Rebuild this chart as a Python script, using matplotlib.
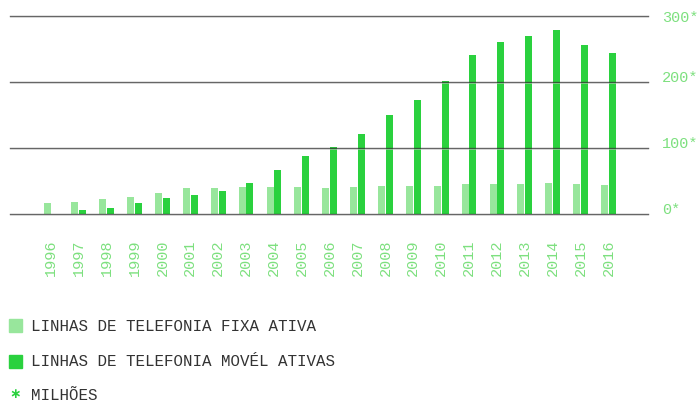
import matplotlib.pyplot as plt
import matplotlib.transforms as mtransforms
import numpy as np

anos = ['1996', '1997', '1998', '1999', '2000', '2001', '2002', '2003', '2004', '2005', '2006',
        '2007', '2008', '2009', '2010', '2011', '2012', '2013', '2014', '2015', '2016']
fixa = [16.7, 18.2, 22.7, 25.8, 31.8, 39.4, 39.4, 41, 41, 41, 39.4,
        41, 42.4, 42.4, 42.4, 45.5, 45.5, 45.5, 47, 45.5, 44]
movel = [0, 6, 9, 16.7, 24, 28.8, 34.8, 47, 66.7, 87.9, 101.5,
         121, 150, 172.7, 201.5, 241, 260.6, 269.7, 278.8, 256, 244]
yticks = [0, 100, 200, 300]
legenda = ['LINHAS DE TELEFONIA FIXA ATIVA', 'LINHAS DE TELEFONIA MOVÉL ATIVAS', 'MILHÕES']

c_fixa = '#98e69c'
c_movel = '#2ad13e'
c_txt = '#7de07f'
mono = 'Liberation Mono'

fig = plt.figure(figsize=(6.99, 4.02), dpi=100)
ax = fig.add_axes([10/699, 1-215/402, 638/699, 198/402])

x = np.arange(len(anos))
w = 0.25
ax.bar(x - 0.14, fixa, width=w, color=c_fixa, zorder=2)
ax.bar(x + 0.14, movel, width=w, color=c_movel, zorder=2)

ax.set_xlim(-1.47, 21.42)
ax.set_ylim(0, 300)
for v in yticks:
    ax.axhline(v, color='#333333', lw=1.0, alpha=0.75, zorder=3, clip_on=False)
    ax.axhline(v - 1.3, color='#cccccc', lw=0.6, alpha=0.6, zorder=3, clip_on=False)

for s in ax.spines.values():
    s.set_visible(False)

ax.set_xticks(x)
ax.set_xticklabels(anos, rotation=90, fontsize=11, color=c_txt, family=mono)
ax.tick_params(axis='x', length=0, pad=18)

ax.yaxis.tick_right()
ax.set_yticks(yticks)
ax.set_yticklabels([f'{v}*' for v in yticks], fontsize=11, color=c_txt, family=mono)
ax.tick_params(axis='y', length=0, pad=10)
for v, lab in zip(yticks, ax.get_yticklabels()):
    if v != 300:
        lab.set_transform(lab.get_transform() + mtransforms.ScaledTranslation(0, 0.065, fig.dpi_scale_trans))

# legenda
fig.patches.append(plt.Rectangle((9/699, 1-333/402), 13/699, 13/402, color=c_fixa, transform=fig.transFigure))
fig.patches.append(plt.Rectangle((9/699, 1-369/402), 13/699, 13/402, color=c_movel, transform=fig.transFigure))
fig.text(31/699, 1-327/402, legenda[0], fontsize=11.4, color='#333333', family=mono, va='center')
fig.text(31/699, 1-362/402, legenda[1], fontsize=11.4, color='#333333', family=mono, va='center')
fig.text(15.5/699, 1-398/402, '∗', fontsize=10, color=c_movel, family='DejaVu Sans',
         va='baseline', ha='center', fontweight='bold')
fig.text(31/699, 1-396/402, legenda[2], fontsize=11.4, color='#333333', family=mono, va='center')

plt.savefig('out.png', dpi=100)
